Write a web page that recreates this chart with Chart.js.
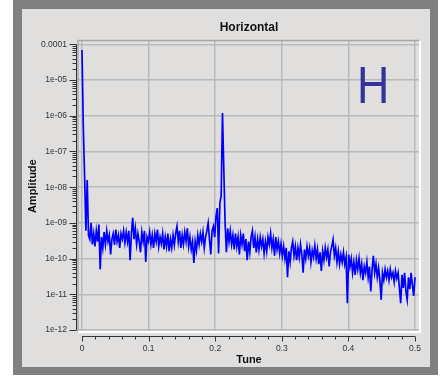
<!DOCTYPE html>
<html>
<head>
<meta charset="utf-8">
<script src="https://cdn.jsdelivr.net/npm/chart.js@4"></script>
<style>
  body { margin: 0; background: #ffffff; }
  #outer { position: absolute; left: 13px; top: 0; width: 425px; height: 375px; background: #808080; }
  #panel { position: absolute; left: 9px; top: 9px; width: 408px; height: 358px; background: #e0dfde; }
  #c { position: absolute; left: 0; top: 0; }
</style>
</head>
<body>
<div id="outer"><div id="panel"></div></div>
<canvas id="c" width="445" height="377"></canvas>
<script>
// espectro horizontal (amplitud vs tune), 257 puntos de 0 a 0.5
const amplitudes = [
  7e-5, 5e-7, 2e-8, 6e-10, 1.6e-8, 4.5e-10, 3.5e-10, 1e-9, 2.5e-10, 5e-10,
  2.2e-10, 6e-10, 3e-10, 9e-10, 5e-11, 4e-10, 2e-10, 5.5e-10, 2.5e-10, 6e-10,
  3e-10, 4.5e-10, 1.3e-10, 3.5e-10, 5e-10, 2.4e-10, 6.5e-10, 3e-10, 4.5e-10, 2e-10,
  5e-10, 3.5e-10, 6e-10, 2.8e-10, 5.5e-10, 3e-10, 6e-10, 9e-11, 5e-10, 1.4e-9,
  3.5e-10, 7e-10, 2.5e-10, 5e-10, 3e-10, 1.5e-10, 5.5e-10, 3e-10, 6e-10, 8e-11,
  4e-10, 3e-10, 5.5e-10, 2.5e-10, 4.5e-10, 2e-10, 5e-10, 3e-10, 6.5e-10, 2.2e-10,
  4e-10, 2.6e-10, 5e-10, 1.8e-10, 4e-10, 2.2e-10, 5e-10, 1.6e-10, 3.5e-10, 2e-10,
  4.5e-10, 2.4e-10, 5e-10, 8e-10, 3e-10, 6e-10, 2e-10, 4.5e-10, 2.5e-10, 5.5e-10,
  3e-10, 7e-10, 2.2e-10, 4e-10, 1.8e-10, 3e-10, 7.5e-11, 3e-10, 1.7e-10, 4.5e-10,
  2.5e-10, 5e-10, 3e-10, 5.5e-10, 2e-10, 4e-10, 6e-10, 1e-9, 3.5e-10, 1.3e-10,
  6e-10, 8e-10, 4e-10, 1.5e-9, 2.6e-9, 1.4e-10, 3.5e-9, 6e-9, 1.2e-6, 3.4e-8,
  1e-9, 1.5e-10, 7e-10, 3e-10, 6e-10, 2.5e-10, 4.5e-10, 1.8e-10, 5e-10, 2.2e-10,
  4e-10, 1.3e-10, 4.5e-10, 2.5e-10, 5e-10, 1.6e-10, 3.5e-10, 9e-11, 3e-10, 1.5e-10,
  4e-10, 6e-10, 2e-10, 4e-10, 1.5e-10, 3.5e-10, 1.8e-10, 4e-10, 2.2e-10, 3.5e-10,
  1.4e-10, 3e-10, 1.6e-10, 4e-10, 2.5e-10, 5e-10, 2e-10, 3.5e-10, 1.2e-10, 4e-10,
  1.8e-10, 3e-10, 1.4e-10, 2.6e-10, 1.2e-10, 2.2e-10, 1e-10, 2e-10, 3e-11, 1.6e-10,
  8e-11, 2e-10, 3e-10, 1.2e-10, 2.2e-10, 9e-11, 2e-10, 1.1e-10, 2.5e-10, 1.3e-10,
  4e-11, 1.8e-10, 1e-10, 2.2e-10, 1.2e-10, 2e-10, 8e-11, 1.7e-10, 1.1e-10, 2.3e-10,
  1e-10, 1.8e-10, 7e-11, 1.5e-10, 4.5e-11, 1.6e-10, 9e-11, 2e-10, 1.1e-10, 1.8e-10,
  6e-11, 1.5e-10, 2.2e-10, 3.4e-10, 1.2e-10, 2e-10, 8e-11, 1.6e-10, 7e-11, 1.3e-10,
  8e-11, 1.5e-10, 7e-11, 1.1e-10, 5.6e-12, 1.3e-10, 6e-11, 1e-10, 4e-11, 8e-11,
  3.5e-11, 9e-11, 5e-11, 1e-10, 4e-11, 7e-11, 2.5e-11, 6e-11, 4e-11, 8e-11,
  3e-11, 6e-11, 1.2e-11, 5e-11, 1.2e-10, 4e-11, 7e-11, 3e-11, 5.5e-11, 2.5e-11,
  7e-12, 4e-11, 2.5e-11, 5e-11, 3e-11, 4.5e-11, 2.5e-11, 5e-11, 3e-11, 4e-11,
  2.2e-11, 4.5e-11, 2.8e-11, 4e-11, 1.5e-11, 5.6e-12, 3.5e-11, 1.5e-11, 4e-11, 1.2e-11,
  7e-12, 3e-11, 1.4e-11, 4e-11, 1.8e-11, 9e-12, 3e-11
];
const tuneStep = 0.5 / 256;
const tunes = amplitudes.map((_, i) => i * tuneStep);

const xTicks = [0, 0.1, 0.2, 0.3, 0.4, 0.5];
const xTickLabels = ["0", "0.1", "0.2", "0.3", "0.4", "0.5"];
const yTicks = [1e-4, 1e-5, 1e-6, 1e-7, 1e-8, 1e-9, 1e-10, 1e-11, 1e-12];
const yTickLabels = ["0.0001", "1e-05", "1e-06", "1e-07", "1e-08", "1e-09", "1e-10", "1e-11", "1e-12"];

const fontFam = "'Liberation Sans', Arial, sans-serif";
const gridColor = "#bababa";

// ejes separados del area del grafico, con marcas menores, y la letra H
const axesPlugin = {
    id: "axesPlugin",
    afterDraw(chart) {
        const { ctx, chartArea: a, scales: { x, y } } = chart;
        ctx.save();

        // borde del area: gris arriba/izquierda, blanco abajo/derecha
        ctx.lineWidth = 1.5;
        ctx.strokeStyle = "#a8a8a8";
        ctx.beginPath();
        ctx.moveTo(a.left, a.bottom);
        ctx.lineTo(a.left, a.top);
        ctx.lineTo(a.right, a.top);
        ctx.stroke();
        ctx.strokeStyle = "#ffffff";
        ctx.lineWidth = 2;
        ctx.beginPath();
        ctx.moveTo(a.right, a.top);
        ctx.lineTo(a.right, a.bottom);
        ctx.lineTo(a.left, a.bottom);
        ctx.stroke();

        ctx.strokeStyle = "#333333";
        ctx.lineWidth = 1;

        // eje Y
        const ax = Math.round(a.left) - 1.5;
        ctx.beginPath();
        ctx.moveTo(ax, y.getPixelForValue(1e-4));
        ctx.lineTo(ax, y.getPixelForValue(1e-12));
        yTicks.forEach((v, i) => {
            const py = Math.round(y.getPixelForValue(v)) + 0.5;
            ctx.moveTo(ax - 7, py);
            ctx.lineTo(ax, py);
            if (i < yTicks.length - 1) {
                for (let m = 2; m <= 9; m++) {
                    const my = Math.round(y.getPixelForValue(v / 10 * m)) + 0.5;
                    ctx.moveTo(ax - 4, my);
                    ctx.lineTo(ax, my);
                }
            }
        });
        ctx.stroke();

        // eje X
        const ay = Math.round(a.bottom) + 4.5;
        ctx.beginPath();
        ctx.moveTo(x.getPixelForValue(0), ay);
        ctx.lineTo(x.getPixelForValue(0.5), ay);
        for (let k = 0; k <= 25; k++) {
            const px = Math.round(x.getPixelForValue(k * 0.02)) + 0.5;
            ctx.moveTo(px, ay);
            ctx.lineTo(px, ay + (k % 5 === 0 ? 5 : 3));
        }
        ctx.stroke();

        // letra H
        ctx.fillStyle = "#333399";
        ctx.font = "52px " + fontFam;
        ctx.textBaseline = "alphabetic";
        ctx.translate(a.right - 63, a.top + 63);
        ctx.scale(0.86, 1);
        ctx.fillText("H", 0, 0);
        ctx.restore();
    }
};

document.addEventListener("DOMContentLoaded", () => {
    const ctx = document.getElementById("c").getContext("2d");
    new Chart(ctx, {
        type: "line",
        data: {
            datasets: [{
                data: amplitudes.map((v, i) => ({ x: tunes[i], y: v })),
                borderColor: "#0000ff",
                borderWidth: 1.7,
                pointRadius: 0,
                tension: 0,
                fill: false
            }]
        },
        options: {
            responsive: false,
            animation: false,
            events: [],
            layout: { padding: { left: 0, right: 25, top: 0, bottom: 0 } },
            plugins: {
                legend: { display: false },
                tooltip: { enabled: false },
                title: {
                    display: true,
                    fullSize: false,
                    text: "Horizontal",
                    color: "#111111",
                    font: { family: fontFam, size: 12, weight: "bold" },
                    padding: { top: 20, bottom: 6 }
                }
            },
            scales: {
                x: {
                    type: "linear",
                    min: -0.006,
                    max: 0.5075,
                    afterFit: s => { s.height = 45; },
                    afterBuildTicks: s => { s.ticks = xTicks.map(v => ({ value: v })); },
                    ticks: {
                        padding: 12,
                        color: "#333333",
                        font: { family: fontFam, size: 8.5 },
                        callback: (v, i) => xTickLabels[i]
                    },
                    grid: { color: gridColor, lineWidth: 1.5, drawTicks: false },
                    border: { display: false },
                    title: {
                        display: true,
                        text: "Tune",
                        color: "#111111",
                        font: { family: fontFam, size: 11, weight: "bold" },
                        padding: { top: 0, bottom: 10 }
                    }
                },
                y: {
                    type: "logarithmic",
                    min: 8.79e-13,
                    max: 1.294e-4,
                    afterFit: s => { s.width = 78; },
                    afterBuildTicks: s => { s.ticks = yTicks.map(v => ({ value: v })); },
                    ticks: {
                        padding: 11,
                        color: "#333333",
                        font: { family: fontFam, size: 8.5 },
                        callback: (v, i) => yTickLabels[i]
                    },
                    grid: { color: gridColor, lineWidth: 1.5, drawTicks: false },
                    border: { display: false },
                    title: {
                        display: true,
                        text: "Amplitude",
                        color: "#111111",
                        font: { family: fontFam, size: 11, weight: "bold" },
                        padding: { top: 26, bottom: 0 }
                    }
                }
            }
        },
        plugins: [axesPlugin]
    });
});
</script>
</body>
</html>
